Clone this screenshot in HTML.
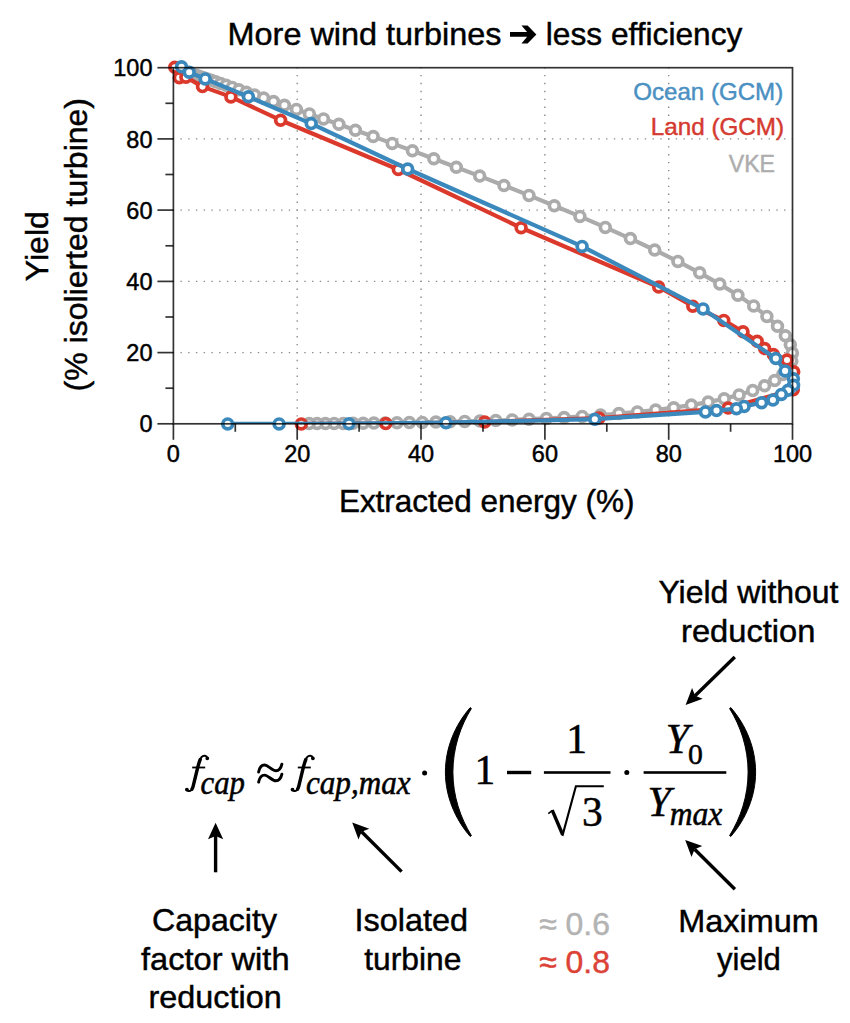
<!DOCTYPE html>
<html><head><meta charset="utf-8"><title>chart</title><style>html,body{margin:0;padding:0;background:#fff}svg{display:block}text{font-family:"Liberation Sans",sans-serif;fill:#000;stroke:#000;stroke-width:0.45px}.s{stroke-width:0.5px}.s{font-family:"Liberation Serif",serif}.i{font-style:italic}</style></head><body>
<svg width="850" height="1023" viewBox="0 0 850 1023">
<rect width="850" height="1023" fill="#fff"/>
<defs><clipPath id="c"><rect x="173.4" y="67.7" width="619.1" height="356.1"/></clipPath></defs>
<g stroke="#8c8c8c" stroke-width="1.4"><line x1="297.22" y1="424.50" x2="297.22" y2="67.70" stroke-dasharray="1.400 6.513"/><line x1="172.70" y1="352.58" x2="792.50" y2="352.58" stroke-dasharray="1.400 6.339"/><line x1="421.04" y1="424.50" x2="421.04" y2="67.70" stroke-dasharray="1.400 6.513"/><line x1="172.70" y1="281.36" x2="792.50" y2="281.36" stroke-dasharray="1.400 6.339"/><line x1="544.86" y1="424.50" x2="544.86" y2="67.70" stroke-dasharray="1.400 6.513"/><line x1="172.70" y1="210.14" x2="792.50" y2="210.14" stroke-dasharray="1.400 6.339"/><line x1="668.68" y1="424.50" x2="668.68" y2="67.70" stroke-dasharray="1.400 6.513"/><line x1="172.70" y1="138.92" x2="792.50" y2="138.92" stroke-dasharray="1.400 6.339"/></g>
<g clip-path="url(#c)"><polyline points="195.0,74.9 197.6,75.8 200.5,76.7 203.7,77.8 207.3,79.0 211.3,80.3 215.7,81.8 220.6,83.5 226.1,85.3 232.2,87.4 238.9,89.7 246.3,92.2 254.5,95.0 263.6,98.1 273.5,101.5 284.4,105.3 296.4,109.4 309.4,113.9 323.5,118.9 338.9,124.3 355.4,130.2 373.2,136.5 392.2,143.4 412.4,150.8 433.8,158.7 456.3,167.2 479.7,176.1 504.0,185.5 529.0,195.4 554.3,205.7 579.9,216.4 605.3,227.4 630.4,238.6 654.7,250.0 677.9,261.4 699.7,272.8 719.8,284.1 737.9,295.2 753.7,305.9 766.9,316.4 777.5,326.3 785.3,335.8 790.3,344.7 792.4,353.1 791.8,360.9 788.5,368.0 782.8,374.5 774.7,380.5 764.6,385.8 752.7,390.6 739.1,394.9 724.2,398.8 708.2,402.1 691.3,405.1 673.7,407.7 655.7,410.0 637.4,411.9 618.9,413.6 600.5,415.1 582.2,416.4 564.1,417.5 546.4,418.4 529.1,419.2 512.2,419.9 495.8,420.5 480.0,421.0 464.7,421.4 450.0,421.8 435.9,422.1 422.3,422.4 409.4,422.6 397.0,422.8 385.2,422.9 373.9,423.1 363.2,423.2 353.0,423.3 343.3,423.4 334.1,423.4 325.4,423.5 317.1,423.5 309.2,423.6" fill="none" stroke="#ababab" stroke-width="4.2" stroke-linejoin="round"/></g>
<circle cx="195.0" cy="74.9" r="4.9" fill="#fff" stroke="#ababab" stroke-width="3.7"/><circle cx="197.6" cy="75.8" r="4.9" fill="#fff" stroke="#ababab" stroke-width="3.7"/><circle cx="200.5" cy="76.7" r="4.9" fill="#fff" stroke="#ababab" stroke-width="3.7"/><circle cx="203.7" cy="77.8" r="4.9" fill="#fff" stroke="#ababab" stroke-width="3.7"/><circle cx="207.3" cy="79.0" r="4.9" fill="#fff" stroke="#ababab" stroke-width="3.7"/><circle cx="211.3" cy="80.3" r="4.9" fill="#fff" stroke="#ababab" stroke-width="3.7"/><circle cx="215.7" cy="81.8" r="4.9" fill="#fff" stroke="#ababab" stroke-width="3.7"/><circle cx="220.6" cy="83.5" r="4.9" fill="#fff" stroke="#ababab" stroke-width="3.7"/><circle cx="226.1" cy="85.3" r="4.9" fill="#fff" stroke="#ababab" stroke-width="3.7"/><circle cx="232.2" cy="87.4" r="4.9" fill="#fff" stroke="#ababab" stroke-width="3.7"/><circle cx="238.9" cy="89.7" r="4.9" fill="#fff" stroke="#ababab" stroke-width="3.7"/><circle cx="246.3" cy="92.2" r="4.9" fill="#fff" stroke="#ababab" stroke-width="3.7"/><circle cx="254.5" cy="95.0" r="4.9" fill="#fff" stroke="#ababab" stroke-width="3.7"/><circle cx="263.6" cy="98.1" r="4.9" fill="#fff" stroke="#ababab" stroke-width="3.7"/><circle cx="273.5" cy="101.5" r="4.9" fill="#fff" stroke="#ababab" stroke-width="3.7"/><circle cx="284.4" cy="105.3" r="4.9" fill="#fff" stroke="#ababab" stroke-width="3.7"/><circle cx="296.4" cy="109.4" r="4.9" fill="#fff" stroke="#ababab" stroke-width="3.7"/><circle cx="309.4" cy="113.9" r="4.9" fill="#fff" stroke="#ababab" stroke-width="3.7"/><circle cx="323.5" cy="118.9" r="4.9" fill="#fff" stroke="#ababab" stroke-width="3.7"/><circle cx="338.9" cy="124.3" r="4.9" fill="#fff" stroke="#ababab" stroke-width="3.7"/><circle cx="355.4" cy="130.2" r="4.9" fill="#fff" stroke="#ababab" stroke-width="3.7"/><circle cx="373.2" cy="136.5" r="4.9" fill="#fff" stroke="#ababab" stroke-width="3.7"/><circle cx="392.2" cy="143.4" r="4.9" fill="#fff" stroke="#ababab" stroke-width="3.7"/><circle cx="412.4" cy="150.8" r="4.9" fill="#fff" stroke="#ababab" stroke-width="3.7"/><circle cx="433.8" cy="158.7" r="4.9" fill="#fff" stroke="#ababab" stroke-width="3.7"/><circle cx="456.3" cy="167.2" r="4.9" fill="#fff" stroke="#ababab" stroke-width="3.7"/><circle cx="479.7" cy="176.1" r="4.9" fill="#fff" stroke="#ababab" stroke-width="3.7"/><circle cx="504.0" cy="185.5" r="4.9" fill="#fff" stroke="#ababab" stroke-width="3.7"/><circle cx="529.0" cy="195.4" r="4.9" fill="#fff" stroke="#ababab" stroke-width="3.7"/><circle cx="554.3" cy="205.7" r="4.9" fill="#fff" stroke="#ababab" stroke-width="3.7"/><circle cx="579.9" cy="216.4" r="4.9" fill="#fff" stroke="#ababab" stroke-width="3.7"/><circle cx="605.3" cy="227.4" r="4.9" fill="#fff" stroke="#ababab" stroke-width="3.7"/><circle cx="630.4" cy="238.6" r="4.9" fill="#fff" stroke="#ababab" stroke-width="3.7"/><circle cx="654.7" cy="250.0" r="4.9" fill="#fff" stroke="#ababab" stroke-width="3.7"/><circle cx="677.9" cy="261.4" r="4.9" fill="#fff" stroke="#ababab" stroke-width="3.7"/><circle cx="699.7" cy="272.8" r="4.9" fill="#fff" stroke="#ababab" stroke-width="3.7"/><circle cx="719.8" cy="284.1" r="4.9" fill="#fff" stroke="#ababab" stroke-width="3.7"/><circle cx="737.9" cy="295.2" r="4.9" fill="#fff" stroke="#ababab" stroke-width="3.7"/><circle cx="753.7" cy="305.9" r="4.9" fill="#fff" stroke="#ababab" stroke-width="3.7"/><circle cx="766.9" cy="316.4" r="4.9" fill="#fff" stroke="#ababab" stroke-width="3.7"/><circle cx="777.5" cy="326.3" r="4.9" fill="#fff" stroke="#ababab" stroke-width="3.7"/><circle cx="785.3" cy="335.8" r="4.9" fill="#fff" stroke="#ababab" stroke-width="3.7"/><circle cx="790.3" cy="344.7" r="4.9" fill="#fff" stroke="#ababab" stroke-width="3.7"/><circle cx="792.4" cy="353.1" r="4.9" fill="#fff" stroke="#ababab" stroke-width="3.7"/><circle cx="791.8" cy="360.9" r="4.9" fill="#fff" stroke="#ababab" stroke-width="3.7"/><circle cx="788.5" cy="368.0" r="4.9" fill="#fff" stroke="#ababab" stroke-width="3.7"/><circle cx="782.8" cy="374.5" r="4.9" fill="#fff" stroke="#ababab" stroke-width="3.7"/><circle cx="774.7" cy="380.5" r="4.9" fill="#fff" stroke="#ababab" stroke-width="3.7"/><circle cx="764.6" cy="385.8" r="4.9" fill="#fff" stroke="#ababab" stroke-width="3.7"/><circle cx="752.7" cy="390.6" r="4.9" fill="#fff" stroke="#ababab" stroke-width="3.7"/><circle cx="739.1" cy="394.9" r="4.9" fill="#fff" stroke="#ababab" stroke-width="3.7"/><circle cx="724.2" cy="398.8" r="4.9" fill="#fff" stroke="#ababab" stroke-width="3.7"/><circle cx="708.2" cy="402.1" r="4.9" fill="#fff" stroke="#ababab" stroke-width="3.7"/><circle cx="691.3" cy="405.1" r="4.9" fill="#fff" stroke="#ababab" stroke-width="3.7"/><circle cx="673.7" cy="407.7" r="4.9" fill="#fff" stroke="#ababab" stroke-width="3.7"/><circle cx="655.7" cy="410.0" r="4.9" fill="#fff" stroke="#ababab" stroke-width="3.7"/><circle cx="637.4" cy="411.9" r="4.9" fill="#fff" stroke="#ababab" stroke-width="3.7"/><circle cx="618.9" cy="413.6" r="4.9" fill="#fff" stroke="#ababab" stroke-width="3.7"/><circle cx="600.5" cy="415.1" r="4.9" fill="#fff" stroke="#ababab" stroke-width="3.7"/><circle cx="582.2" cy="416.4" r="4.9" fill="#fff" stroke="#ababab" stroke-width="3.7"/><circle cx="564.1" cy="417.5" r="4.9" fill="#fff" stroke="#ababab" stroke-width="3.7"/><circle cx="546.4" cy="418.4" r="4.9" fill="#fff" stroke="#ababab" stroke-width="3.7"/><circle cx="529.1" cy="419.2" r="4.9" fill="#fff" stroke="#ababab" stroke-width="3.7"/><circle cx="512.2" cy="419.9" r="4.9" fill="#fff" stroke="#ababab" stroke-width="3.7"/><circle cx="495.8" cy="420.5" r="4.9" fill="#fff" stroke="#ababab" stroke-width="3.7"/><circle cx="480.0" cy="421.0" r="4.9" fill="#fff" stroke="#ababab" stroke-width="3.7"/><circle cx="464.7" cy="421.4" r="4.9" fill="#fff" stroke="#ababab" stroke-width="3.7"/><circle cx="450.0" cy="421.8" r="4.9" fill="#fff" stroke="#ababab" stroke-width="3.7"/><circle cx="435.9" cy="422.1" r="4.9" fill="#fff" stroke="#ababab" stroke-width="3.7"/><circle cx="422.3" cy="422.4" r="4.9" fill="#fff" stroke="#ababab" stroke-width="3.7"/><circle cx="409.4" cy="422.6" r="4.9" fill="#fff" stroke="#ababab" stroke-width="3.7"/><circle cx="397.0" cy="422.8" r="4.9" fill="#fff" stroke="#ababab" stroke-width="3.7"/><circle cx="385.2" cy="422.9" r="4.9" fill="#fff" stroke="#ababab" stroke-width="3.7"/><circle cx="373.9" cy="423.1" r="4.9" fill="#fff" stroke="#ababab" stroke-width="3.7"/><circle cx="363.2" cy="423.2" r="4.9" fill="#fff" stroke="#ababab" stroke-width="3.7"/><circle cx="353.0" cy="423.3" r="4.9" fill="#fff" stroke="#ababab" stroke-width="3.7"/><circle cx="343.3" cy="423.4" r="4.9" fill="#fff" stroke="#ababab" stroke-width="3.7"/><circle cx="334.1" cy="423.4" r="4.9" fill="#fff" stroke="#ababab" stroke-width="3.7"/><circle cx="325.4" cy="423.5" r="4.9" fill="#fff" stroke="#ababab" stroke-width="3.7"/><circle cx="317.1" cy="423.5" r="4.9" fill="#fff" stroke="#ababab" stroke-width="3.7"/><circle cx="309.2" cy="423.6" r="4.9" fill="#fff" stroke="#ababab" stroke-width="3.7"/>
<g clip-path="url(#c)"><polyline points="174.8,67.3 179.3,77.7 185.9,77.2 202.5,86.6 230.9,96.9 280.6,120.2 398.3,169.5 521.1,227.8 658.7,287.0 692.8,306.2 723.8,320.4 743.0,331.8 757.2,341.3 764.6,348.5 773.3,354.5 787.0,360.0 793.7,371.7 793.3,389.7 728.2,408.1 599.0,418.0 484.7,422.0 385.8,423.6 301.3,423.9" fill="none" stroke="#dc392d" stroke-width="4.2" stroke-linejoin="round"/></g>
<circle cx="174.8" cy="67.3" r="4.9" fill="#fff" stroke="#dc392d" stroke-width="3.7"/><circle cx="179.3" cy="77.7" r="4.9" fill="#fff" stroke="#dc392d" stroke-width="3.7"/><circle cx="185.9" cy="77.2" r="4.9" fill="#fff" stroke="#dc392d" stroke-width="3.7"/><circle cx="202.5" cy="86.6" r="4.9" fill="#fff" stroke="#dc392d" stroke-width="3.7"/><circle cx="230.9" cy="96.9" r="4.9" fill="#fff" stroke="#dc392d" stroke-width="3.7"/><circle cx="280.6" cy="120.2" r="4.9" fill="#fff" stroke="#dc392d" stroke-width="3.7"/><circle cx="398.3" cy="169.5" r="4.9" fill="#fff" stroke="#dc392d" stroke-width="3.7"/><circle cx="521.1" cy="227.8" r="4.9" fill="#fff" stroke="#dc392d" stroke-width="3.7"/><circle cx="658.7" cy="287.0" r="4.9" fill="#fff" stroke="#dc392d" stroke-width="3.7"/><circle cx="692.8" cy="306.2" r="4.9" fill="#fff" stroke="#dc392d" stroke-width="3.7"/><circle cx="723.8" cy="320.4" r="4.9" fill="#fff" stroke="#dc392d" stroke-width="3.7"/><circle cx="743.0" cy="331.8" r="4.9" fill="#fff" stroke="#dc392d" stroke-width="3.7"/><circle cx="757.2" cy="341.3" r="4.9" fill="#fff" stroke="#dc392d" stroke-width="3.7"/><circle cx="764.6" cy="348.5" r="4.9" fill="#fff" stroke="#dc392d" stroke-width="3.7"/><circle cx="773.3" cy="354.5" r="4.9" fill="#fff" stroke="#dc392d" stroke-width="3.7"/><circle cx="787.0" cy="360.0" r="4.9" fill="#fff" stroke="#dc392d" stroke-width="3.7"/><circle cx="793.7" cy="371.7" r="4.9" fill="#fff" stroke="#dc392d" stroke-width="3.7"/><circle cx="793.3" cy="389.7" r="4.9" fill="#fff" stroke="#dc392d" stroke-width="3.7"/><circle cx="728.2" cy="408.1" r="4.9" fill="#fff" stroke="#dc392d" stroke-width="3.7"/><circle cx="599.0" cy="418.0" r="4.9" fill="#fff" stroke="#dc392d" stroke-width="3.7"/><circle cx="484.7" cy="422.0" r="4.9" fill="#fff" stroke="#dc392d" stroke-width="3.7"/><circle cx="385.8" cy="423.6" r="4.9" fill="#fff" stroke="#dc392d" stroke-width="3.7"/><circle cx="301.3" cy="423.9" r="4.9" fill="#fff" stroke="#dc392d" stroke-width="3.7"/>
<g clip-path="url(#c)"><polyline points="181.5,66.8 189.2,72.2 205.2,78.9 248.4,96.7 311.2,123.6 407.7,169.0 582.1,246.4 703.1,308.9 775.8,358.5 785.1,370.9 793.4,378.7 793.6,385.3 788.1,390.3 781.4,394.4 772.9,400.0 761.6,402.7 744.1,406.4 736.4,408.7 716.5,410.6 705.4,411.9 594.8,419.2 445.9,422.7 349.0,423.7 279.1,423.9 227.7,423.9" fill="none" stroke="#3b89bc" stroke-width="4.2" stroke-linejoin="round"/></g>
<circle cx="181.5" cy="66.8" r="4.9" fill="#fff" stroke="#3b89bc" stroke-width="3.7"/><circle cx="189.2" cy="72.2" r="4.9" fill="#fff" stroke="#3b89bc" stroke-width="3.7"/><circle cx="205.2" cy="78.9" r="4.9" fill="#fff" stroke="#3b89bc" stroke-width="3.7"/><circle cx="248.4" cy="96.7" r="4.9" fill="#fff" stroke="#3b89bc" stroke-width="3.7"/><circle cx="311.2" cy="123.6" r="4.9" fill="#fff" stroke="#3b89bc" stroke-width="3.7"/><circle cx="407.7" cy="169.0" r="4.9" fill="#fff" stroke="#3b89bc" stroke-width="3.7"/><circle cx="582.1" cy="246.4" r="4.9" fill="#fff" stroke="#3b89bc" stroke-width="3.7"/><circle cx="703.1" cy="308.9" r="4.9" fill="#fff" stroke="#3b89bc" stroke-width="3.7"/><circle cx="775.8" cy="358.5" r="4.9" fill="#fff" stroke="#3b89bc" stroke-width="3.7"/><circle cx="785.1" cy="370.9" r="4.9" fill="#fff" stroke="#3b89bc" stroke-width="3.7"/><circle cx="793.4" cy="378.7" r="4.9" fill="#fff" stroke="#3b89bc" stroke-width="3.7"/><circle cx="793.6" cy="385.3" r="4.9" fill="#fff" stroke="#3b89bc" stroke-width="3.7"/><circle cx="788.1" cy="390.3" r="4.9" fill="#fff" stroke="#3b89bc" stroke-width="3.7"/><circle cx="781.4" cy="394.4" r="4.9" fill="#fff" stroke="#3b89bc" stroke-width="3.7"/><circle cx="772.9" cy="400.0" r="4.9" fill="#fff" stroke="#3b89bc" stroke-width="3.7"/><circle cx="761.6" cy="402.7" r="4.9" fill="#fff" stroke="#3b89bc" stroke-width="3.7"/><circle cx="744.1" cy="406.4" r="4.9" fill="#fff" stroke="#3b89bc" stroke-width="3.7"/><circle cx="736.4" cy="408.7" r="4.9" fill="#fff" stroke="#3b89bc" stroke-width="3.7"/><circle cx="716.5" cy="410.6" r="4.9" fill="#fff" stroke="#3b89bc" stroke-width="3.7"/><circle cx="705.4" cy="411.9" r="4.9" fill="#fff" stroke="#3b89bc" stroke-width="3.7"/><circle cx="594.8" cy="419.2" r="4.9" fill="#fff" stroke="#3b89bc" stroke-width="3.7"/><circle cx="445.9" cy="422.7" r="4.9" fill="#fff" stroke="#3b89bc" stroke-width="3.7"/><circle cx="349.0" cy="423.7" r="4.9" fill="#fff" stroke="#3b89bc" stroke-width="3.7"/><circle cx="279.1" cy="423.9" r="4.9" fill="#fff" stroke="#3b89bc" stroke-width="3.7"/><circle cx="227.7" cy="423.9" r="4.9" fill="#fff" stroke="#3b89bc" stroke-width="3.7"/>
<g stroke="#000" stroke-opacity="0.8" stroke-width="1.7"><rect x="173.4" y="67.7" width="619.1" height="356.1" fill="none"/><line x1="173.4" y1="423.8" x2="173.4" y2="439.8"/><line x1="173.4" y1="423.8" x2="157.4" y2="423.8"/><line x1="235.3" y1="423.8" x2="235.3" y2="431.8"/><line x1="173.4" y1="388.2" x2="165.4" y2="388.2"/><line x1="297.2" y1="423.8" x2="297.2" y2="439.8"/><line x1="173.4" y1="352.6" x2="157.4" y2="352.6"/><line x1="359.1" y1="423.8" x2="359.1" y2="431.8"/><line x1="173.4" y1="317.0" x2="165.4" y2="317.0"/><line x1="421.0" y1="423.8" x2="421.0" y2="439.8"/><line x1="173.4" y1="281.4" x2="157.4" y2="281.4"/><line x1="483.0" y1="423.8" x2="483.0" y2="431.8"/><line x1="173.4" y1="245.8" x2="165.4" y2="245.8"/><line x1="544.9" y1="423.8" x2="544.9" y2="439.8"/><line x1="173.4" y1="210.1" x2="157.4" y2="210.1"/><line x1="606.8" y1="423.8" x2="606.8" y2="431.8"/><line x1="173.4" y1="174.5" x2="165.4" y2="174.5"/><line x1="668.7" y1="423.8" x2="668.7" y2="439.8"/><line x1="173.4" y1="138.9" x2="157.4" y2="138.9"/><line x1="730.6" y1="423.8" x2="730.6" y2="431.8"/><line x1="173.4" y1="103.3" x2="165.4" y2="103.3"/><line x1="792.5" y1="423.8" x2="792.5" y2="439.8"/><line x1="173.4" y1="67.7" x2="157.4" y2="67.7"/></g>
<text x="173.4" y="461.9" font-size="23.5" text-anchor="middle">0</text>
<text x="152.5" y="432.4" font-size="23.5" text-anchor="end">0</text>
<text x="297.2" y="461.9" font-size="23.5" text-anchor="middle">20</text>
<text x="152.5" y="361.2" font-size="23.5" text-anchor="end">20</text>
<text x="421.0" y="461.9" font-size="23.5" text-anchor="middle">40</text>
<text x="152.5" y="290.0" font-size="23.5" text-anchor="end">40</text>
<text x="544.9" y="461.9" font-size="23.5" text-anchor="middle">60</text>
<text x="152.5" y="218.7" font-size="23.5" text-anchor="end">60</text>
<text x="668.7" y="461.9" font-size="23.5" text-anchor="middle">80</text>
<text x="152.5" y="147.5" font-size="23.5" text-anchor="end">80</text>
<text x="792.5" y="461.9" font-size="23.5" text-anchor="middle">100</text>
<text x="152.5" y="76.3" font-size="23.5" text-anchor="end">100</text>
<text x="227.6" y="44.8" font-size="32" textLength="273.8" lengthAdjust="spacingAndGlyphs">More wind turbines</text>
<path d="M510 32 H527.1 L521.5 25.4 H527.6 L536.4 34.4 L527.6 43.4 H521.5 L527.1 36.8 H510 Z" fill="#000"/>
<text x="545.8" y="44.8" font-size="32" textLength="196.5" lengthAdjust="spacingAndGlyphs">less efficiency</text>
<text x="338.9" y="512.3" font-size="32" textLength="295.5" lengthAdjust="spacingAndGlyphs">Extracted energy (%)</text>
<text transform="translate(48.4,281.2) rotate(-90)" font-size="32" textLength="70.0" lengthAdjust="spacingAndGlyphs">Yield</text>
<text transform="translate(86.7,391.4) rotate(-90)" font-size="32" textLength="293.4" lengthAdjust="spacingAndGlyphs">(% isolierted turbine)</text>
<text x="633.2" y="99.6" font-size="24" textLength="150.0" lengthAdjust="spacingAndGlyphs" style="fill:#4a90c2;stroke:#4a90c2">Ocean (GCM)</text>
<text x="650.8" y="134.9" font-size="24" textLength="133.3" lengthAdjust="spacingAndGlyphs" style="fill:#d53a30;stroke:#d53a30">Land (GCM)</text>
<text x="728.8" y="171.5" font-size="24" textLength="46.2" lengthAdjust="spacingAndGlyphs" style="fill:#adadad;stroke:#adadad">VKE</text>
<text x="658.4" y="603.0" font-size="32" textLength="180.1" lengthAdjust="spacingAndGlyphs">Yield without</text>
<text x="681.0" y="641.5" font-size="32" textLength="134.4" lengthAdjust="spacingAndGlyphs">reduction</text>
<text x="152.0" y="930.6" font-size="32" textLength="125.0" lengthAdjust="spacingAndGlyphs">Capacity</text>
<text x="141.0" y="969.8" font-size="32" textLength="148.5" lengthAdjust="spacingAndGlyphs">factor with</text>
<text x="148.6" y="1008.1" font-size="32" textLength="133.1" lengthAdjust="spacingAndGlyphs">reduction</text>
<text x="354.5" y="930.9" font-size="32" textLength="113.5" lengthAdjust="spacingAndGlyphs">Isolated</text>
<text x="364.2" y="969.9" font-size="32" textLength="97.1" lengthAdjust="spacingAndGlyphs">turbine</text>
<text x="678.3" y="931.7" font-size="32" textLength="140.5" lengthAdjust="spacingAndGlyphs">Maximum</text>
<text x="717.0" y="970.0" font-size="32" textLength="63.8" lengthAdjust="spacingAndGlyphs">yield</text>
<text x="539.2" y="934.6" font-size="32" textLength="70.8" lengthAdjust="spacingAndGlyphs" style="fill:#b3b3b3;stroke:#b3b3b3">≈ 0.6</text>
<text x="539.2" y="973.4" font-size="32" textLength="70.8" lengthAdjust="spacingAndGlyphs" style="fill:#dc4236;stroke:#dc4236">≈ 0.8</text>
<line x1="734.8" y1="657.0" x2="695.1" y2="695.7" stroke="#000" stroke-width="3.4"/><path d="M685.6 704.9 L692.1 687.9 L695.1 695.7 L702.7 698.8 Z" fill="#000"/>
<line x1="215.6" y1="872.3" x2="215.6" y2="836.0" stroke="#000" stroke-width="3.4"/><path d="M215.6 822.8 L223.2 839.3 L215.6 836.0 L208.0 839.3 Z" fill="#000"/>
<line x1="401.6" y1="871.6" x2="361.6" y2="831.8" stroke="#000" stroke-width="3.4"/><path d="M352.2 822.5 L369.3 828.7 L361.6 831.8 L358.5 839.5 Z" fill="#000"/>
<line x1="734.9" y1="889.3" x2="694.6" y2="849.2" stroke="#000" stroke-width="3.4"/><path d="M685.2 839.9 L702.3 846.1 L694.6 849.2 L691.5 856.9 Z" fill="#000"/>
<g>
<g transform="translate(0,0)" fill="none" stroke="#000" stroke-linecap="round" stroke-linejoin="round"><path d="M207.4 758.1 C206.8 755.4 203.4 754.9 201.5 757.2 C199.6 759.5 198.7 763.3 197.7 767.5 L193.3 785.6 C192.4 789.4 190.6 792.2 187.6 790.6" stroke-width="2.0"/><path d="M200.2 759.5 C199.2 762 198.5 764.5 197.7 767.5 L193.3 785.6 C193 787 192.6 788.2 192 789.2" stroke-width="3.4"/><path d="M192.2 767.5 H205.2" stroke-width="1.8" stroke-linecap="butt"/><circle cx="207.3" cy="758.3" r="1.2" fill="#000" stroke-width="1.4"/><circle cx="186.9" cy="789.6" r="1.2" fill="#000" stroke-width="1.4"/></g>
<g transform="translate(105.6,0)" fill="none" stroke="#000" stroke-linecap="round" stroke-linejoin="round"><path d="M207.4 758.1 C206.8 755.4 203.4 754.9 201.5 757.2 C199.6 759.5 198.7 763.3 197.7 767.5 L193.3 785.6 C192.4 789.4 190.6 792.2 187.6 790.6" stroke-width="2.0"/><path d="M200.2 759.5 C199.2 762 198.5 764.5 197.7 767.5 L193.3 785.6 C193 787 192.6 788.2 192 789.2" stroke-width="3.4"/><path d="M192.2 767.5 H205.2" stroke-width="1.8" stroke-linecap="butt"/><circle cx="207.3" cy="758.3" r="1.2" fill="#000" stroke-width="1.4"/><circle cx="186.9" cy="789.6" r="1.2" fill="#000" stroke-width="1.4"/></g>
<text class="s i" transform="translate(200.6,794.3) scale(1,1.1)" font-size="30" textLength="44.3" lengthAdjust="spacingAndGlyphs">cap</text>
<text class="s i" transform="translate(306.0,794.3) scale(1,1.1)" font-size="30" textLength="104.5" lengthAdjust="spacingAndGlyphs">cap,max</text>
<path transform="translate(0,0)" d="M258.6 772.0 C259.6 767.2 262 765 264.5 765 C268.2 765 271.6 770.7 276 770.7 C279 770.7 281 768 281.9 764.1" fill="none" stroke="#000" stroke-width="2.9" stroke-linecap="round"/>
<path transform="translate(0,10.1)" d="M258.6 772.0 C259.6 767.2 262 765 264.5 765 C268.2 765 271.6 770.7 276 770.7 C279 770.7 281 768 281.9 764.1" fill="none" stroke="#000" stroke-width="2.9" stroke-linecap="round"/>
<circle cx="424.6" cy="772.9" r="2.5" fill="#000"/>
<circle cx="626.8" cy="772.6" r="2.5" fill="#000"/>
<text class="s" x="474.6" y="783.6" font-size="41.5">1</text>
<rect x="507" y="770.8" width="24.2" height="3.4" fill="#000"/>
<rect x="543.9" y="771.2" width="66.6" height="2.6" fill="#000"/>
<text class="s" x="566.2" y="753.4" font-size="41.5">1</text>
<text class="s" x="582" y="826.1" font-size="41.5">3</text>
<path d="M548.3 813.6 L552.6 810.4" fill="none" stroke="#000" stroke-width="1.6"/>
<path d="M552.2 810.2 L562.6 834.5" fill="none" stroke="#000" stroke-width="3.4"/>
<path d="M562.4 835.9 L575.9 786.2 H603.8" fill="none" stroke="#000" stroke-width="2.1" stroke-linejoin="miter"/>
<rect x="643.6" y="771.2" width="82.7" height="2.6" fill="#000"/>
<text class="s i" x="665.8" y="753.4" font-size="42">Y</text>
<text class="s" x="688" y="763.5" font-size="29.7">0</text>
<text class="s i" x="647.4" y="816" font-size="42">Y</text>
<text class="s i" transform="translate(669.7,824.6) scale(1,1.1)" font-size="30" textLength="52.6" lengthAdjust="spacingAndGlyphs">max</text>
<path d="M470.2 707.6 C455 725 445.4 748 445.4 772.2 C445.4 796 455 819 470.2 836.5 L471.4 835.6 C460.5 818 452.9 796 452.9 772.2 C452.9 748 460.5 726 471.4 708.5 Z" fill="#000" stroke="#000" stroke-width="1" stroke-linejoin="round"/>
<path transform="translate(1201,0) scale(-1,1)" d="M470.2 707.6 C455 725 445.4 748 445.4 772.2 C445.4 796 455 819 470.2 836.5 L471.4 835.6 C460.5 818 452.9 796 452.9 772.2 C452.9 748 460.5 726 471.4 708.5 Z" fill="#000" stroke="#000" stroke-width="1" stroke-linejoin="round"/>
</g>
</svg></body></html>
